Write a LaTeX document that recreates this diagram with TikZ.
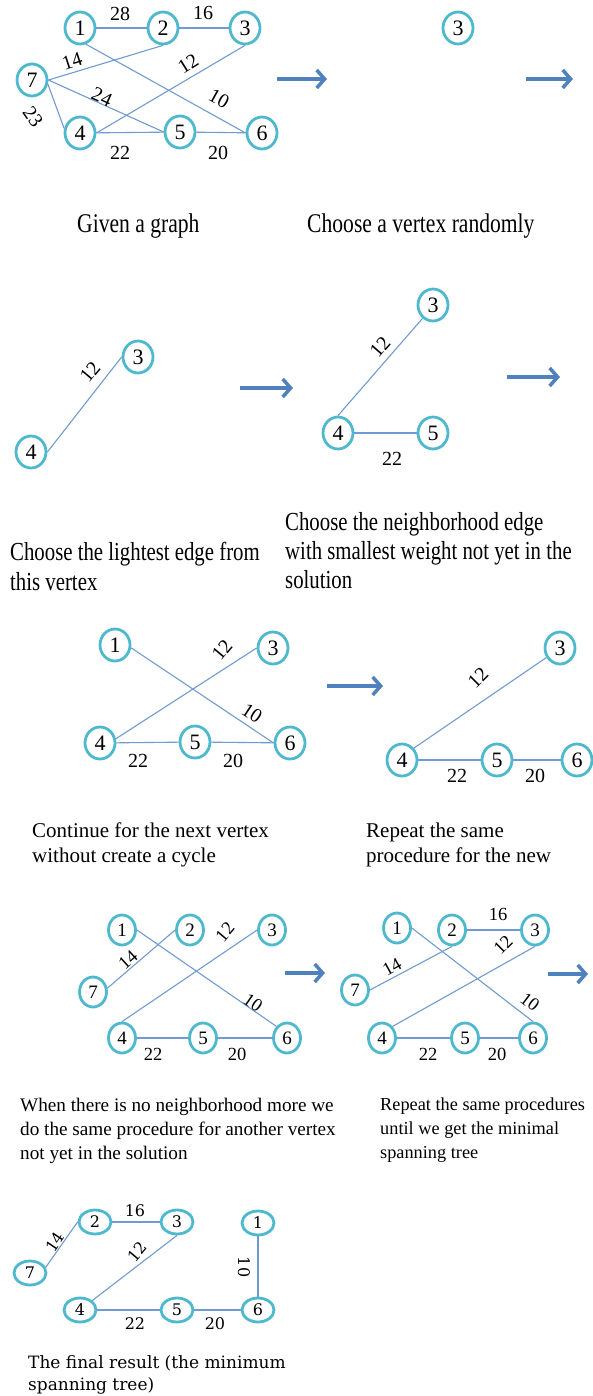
\documentclass[tikz,border=0pt]{standalone}
\usepackage{fontspec}
\setmainfont{Liberation Serif}
\newfontfamily\condfont[FakeStretch=0.8]{Liberation Serif}
\newfontfamily\finfont{DejaVu Serif}
\usetikzlibrary{arrows.meta,shapes.geometric}
\definecolor{ring}{RGB}{78,184,206}
\definecolor{edgec}{RGB}{112,154,210}
\definecolor{arrc}{RGB}{79,129,189}
\tikzset{
 vtx/.style={ellipse, draw=ring, line width=2.8pt, minimum width=30pt, minimum height=32pt, inner sep=0pt, font=\fontsize{22}{22}\selectfont},
 vsm/.style={vtx, minimum width=27pt, minimum height=30pt, font=\fontsize{19}{19}\selectfont},
 vfin/.style={vtx, minimum width=32pt, minimum height=24pt, font=\finfont\fontsize{16}{16}\selectfont},
 edg/.style={draw=edgec, line width=1.1pt},
 lbl/.style={inner sep=0pt, font=\fontsize{20}{20}\selectfont},
 lsm/.style={inner sep=0pt, font=\fontsize{18.5}{18.5}\selectfont},
 lfin/.style={inner sep=0pt, font=\finfont\fontsize{16}{16}\selectfont},
 nextarrow/.style={draw=arrc, line width=3.5pt, -{Straight Barb[length=8pt,width=18pt]}},
 capbase/.style={anchor=north west, inner sep=0pt, align=left},
 capA/.style={capbase, font=\condfont\fontsize{27}{30}\selectfont},
 capB/.style={capbase, font=\condfont\fontsize{26}{30}\selectfont},
 capC/.style={capbase, font=\fontsize{21}{24.5}\selectfont},
 capD/.style={capbase, font=\fontsize{19.2}{24}\selectfont},
 capE/.style={capbase, font=\fontsize{18.3}{24}\selectfont},
 capF/.style={capbase, font=\finfont\fontsize{17}{22}\selectfont},
}
\begin{document}
\begin{tikzpicture}[x=1pt,y=-1pt]
\useasboundingbox (0,0) rectangle (592,1396);
% ---------- panel 1: given graph
\node[vtx] (a1) at (80,28) {1};
\node[vtx] (a2) at (163,28) {2};
\node[vtx] (a3) at (245,28) {3};
\node[vtx] (a7) at (32,80) {7};
\node[vtx] (a4) at (80,133) {4};
\node[vtx] (a5) at (180,132) {5};
\node[vtx] (a6) at (262,133) {6};
\draw[edg] (a1) -- (a2);
\draw[edg] (a2) -- (a3);
\draw[edg] (a7.east) -- (a2.south);
\draw[edg] (a7.east) -- (a5.west);
\draw[edg] (a7.-15) -- (a4.164);
\draw[edg] (a3.south) -- (a4.east);
\draw[edg] (a1.-70) -- (a6.west);
\draw[edg] (a4) -- (a5);
\draw[edg] (a5) -- (a6);
\node[lbl] (a12w) at (120,14) {28};
\node[lbl] (a23w) at (203,13) {16};
\node[lbl, rotate=18] (a72w) at (72,61) {14};
\node[lbl, rotate=32] (a34w) at (188,64) {12};
\node[lbl, rotate=-29] (a16w) at (219,99) {10};
\node[lbl, rotate=-24] (a75w) at (102,97) {24};
\node[lbl, rotate=-55] (a74w) at (33,117) {23};
\node[lbl] (a45w) at (120,153) {22};
\node[lbl] (a56w) at (218,153) {20};
% ---------- panel 2
\node[vtx] (b3) at (458,28) {3};
% arrows row 1
\coordinate (r1s) at (277,79); \coordinate (r1e) at (327,79);
\coordinate (r2s) at (526,79); \coordinate (r2e) at (573,79);
\draw[nextarrow] (r1s) -- (r1e);
\draw[nextarrow] (r2s) -- (r2e);
\node[capA] (capa) at (77,214) {Given a graph};
\node[capA] (capb) at (307,214) {Choose a vertex randomly};
% ---------- panel 3
\node[vtx] (c3) at (138,357) {3};
\node[vtx] (c4) at (31,452) {4};
\draw[edg] (c4.east) -- (c3.west);
\node[lbl, rotate=50] (c34w) at (90,372) {12};
\coordinate (r3s) at (240,388); \coordinate (r3e) at (293,388);
\draw[nextarrow] (r3s) -- (r3e);
% ---------- panel 4
\node[vtx] (d3) at (433,305) {3};
\node[vtx] (d4) at (338,433) {4};
\node[vtx] (d5) at (433,433) {5};
\draw[edg] (d3.-128) -- (d4.north);
\draw[edg] (d4) -- (d5);
\node[lbl, rotate=49] (d34w) at (380,347) {12};
\node[lbl] (d45w) at (392,459) {22};
\coordinate (r4s) at (507,377); \coordinate (r4e) at (560,377);
\draw[nextarrow] (r4s) -- (r4e);
\node[capB] (capc) at (10,542) {Choose the lightest edge from\\this vertex};
\node[capB, font=\condfont\fontsize{26}{29}\selectfont] (capd) at (285,512) {Choose the neighborhood edge\\with smallest weight not yet in the\\solution};
% ---------- panel 5
\node[vtx] (e1) at (115,645) {1};
\node[vtx] (e3) at (273,648) {3};
\node[vtx] (e4) at (100,743) {4};
\node[vtx] (e5) at (195,742) {5};
\node[vtx] (e6) at (290,743) {6};
\draw[edg] (e1.-10) -- (e6.west);
\draw[edg] (e4.15) -- (e3.west);
\draw[edg] (e4) -- (e5);
\draw[edg] (e5) -- (e6);
\node[lbl, rotate=50] (e34w) at (222,650) {12};
\node[lbl, rotate=-33] (e16w) at (252,713) {10};
\node[lbl] (e45w) at (138,761) {22};
\node[lbl] (e56w) at (233,761) {20};
\coordinate (r5s) at (327,686); \coordinate (r5e) at (383,686);
\draw[nextarrow] (r5s) -- (r5e);
% ---------- panel 6
\node[vtx] (f3) at (560,648) {3};
\node[vtx] (f4) at (402,760) {4};
\node[vtx] (f5) at (497,760) {5};
\node[vtx] (f6) at (577,760) {6};
\draw[edg] (f3.-145) -- (f4.45);
\draw[edg] (f4) -- (f5);
\draw[edg] (f5) -- (f6);
\node[lbl, rotate=45] (f34w) at (478,678) {12};
\node[lbl] (f45w) at (457,776) {22};
\node[lbl] (f56w) at (535,776) {20};
\node[capC] (cape) at (32,823) {Continue for the next vertex\\without create a cycle};
\node[capC] (capf) at (366,823) {Repeat the same\\procedure for the new};
% ---------- panel 7
\node[vsm] (g1) at (122,930) {1};
\node[vsm] (g2) at (190,930) {2};
\node[vsm] (g3) at (272,930) {3};
\node[vsm] (g7) at (93,992) {7};
\node[vsm] (g4) at (122,1038) {4};
\node[vsm] (g5) at (203,1038) {5};
\node[vsm] (g6) at (287,1038) {6};
\draw[edg] (g7.15) -- (g2.west);
\draw[edg] (g3.west) -- (g4.north);
\draw[edg] (g1.east) -- (g6.north west);
\draw[edg] (g4) -- (g5);
\draw[edg] (g5) -- (g6);
\node[lsm, rotate=42] (g72w) at (128,960) {14};
\node[lsm, rotate=50] (g34w) at (225,932) {12};
\node[lsm, rotate=-35] (g16w) at (253,1003) {10};
\node[lsm] (g45w) at (153,1054) {22};
\node[lsm] (g56w) at (237,1054) {20};
\coordinate (r6s) at (285,973); \coordinate (r6e) at (325,973);
\draw[nextarrow] (r6s) -- (r6e);
% ---------- panel 8
\node[vsm] (h1) at (397,928) {1};
\node[vsm] (h2) at (452,930) {2};
\node[vsm] (h3) at (535,930) {3};
\node[vsm] (h7) at (355,990) {7};
\node[vsm] (h4) at (382,1038) {4};
\node[vsm] (h5) at (465,1038) {5};
\node[vsm] (h6) at (533,1038) {6};
\draw[edg] (h2) -- (h3);
\draw[edg] (h7.east) -- (h2.south);
\draw[edg] (h3.south) -- (h4.north east);
\draw[edg] (h1.east) -- (h6.north);
\draw[edg] (h4) -- (h5);
\draw[edg] (h5) -- (h6);
\node[lsm] (h23w) at (498,914) {16};
\node[lsm, rotate=29] (h72w) at (392,967) {14};
\node[lsm, rotate=45] (h34w) at (503,945) {12};
\node[lsm, rotate=-37] (h16w) at (530,1002) {10};
\node[lsm] (h45w) at (428,1054) {22};
\node[lsm] (h56w) at (497,1054) {20};
\coordinate (r7s) at (548,974); \coordinate (r7e) at (588,974);
\draw[nextarrow] (r7s) -- (r7e);
\node[capD] (capg) at (20,1098) {When there is no neighborhood more we\\do the same procedure for another vertex\\not yet in the solution};
\node[capE] (caph) at (380,1098) {Repeat the same procedures\\until we get the minimal\\spanning tree};
% ---------- panel 9: final
\node[vfin] (i2) at (95,1222) {2};
\node[vfin] (i3) at (177,1222) {3};
\node[vfin] (i1) at (258,1223) {1};
\node[vfin] (i7) at (30,1273) {7};
\node[vfin] (i4) at (80,1310) {4};
\node[vfin] (i5) at (177,1310) {5};
\node[vfin] (i6) at (258,1310) {6};
\draw[edg] (i7.20) -- (i2.west);
\draw[edg] (i2) -- (i3);
\draw[edg] (i3.south) -- (i4.north east);
\draw[edg] (i1) -- (i6);
\draw[edg] (i4) -- (i5);
\draw[edg] (i5) -- (i6);
\node[lfin, rotate=56] (i72w) at (55,1242) {14};
\node[lfin] (i23w) at (135,1211) {16};
\node[lfin, rotate=50] (i34w) at (137,1252) {12};
\node[lfin, rotate=-90] (i16w) at (244,1267) {10};
\node[lfin] (i45w) at (135,1324) {22};
\node[lfin] (i56w) at (215,1324) {20};
\node[capF] (capi) at (28,1355) {The final result (the minimum\\spanning tree)};
\end{tikzpicture}
\end{document}
